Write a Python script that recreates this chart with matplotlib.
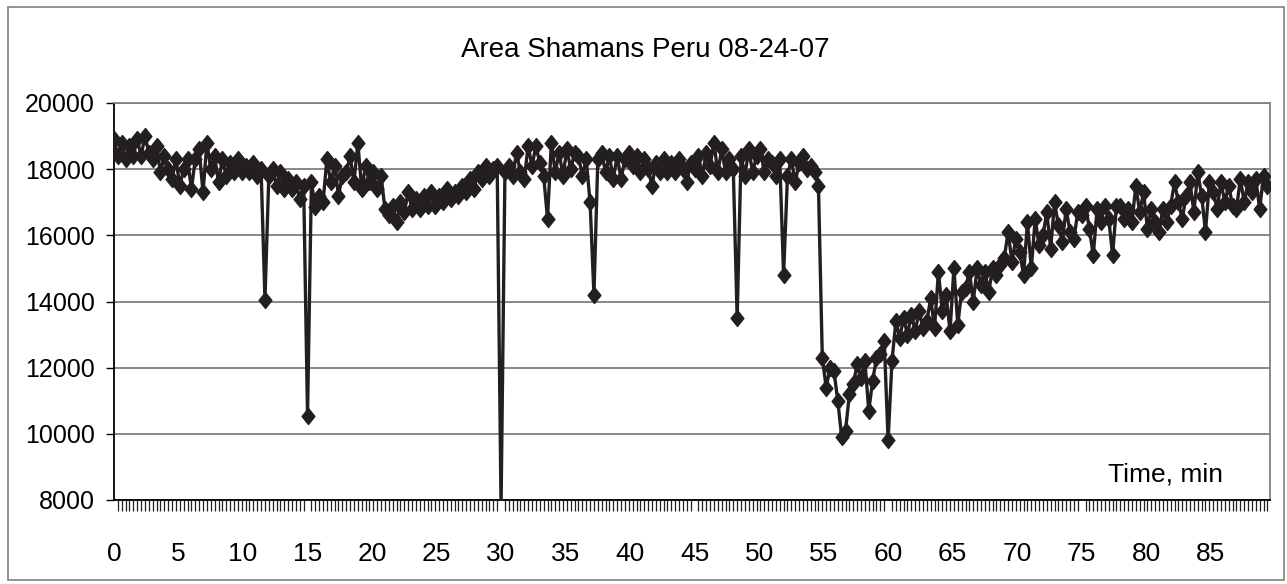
import numpy as np
import matplotlib.pyplot as plt
from matplotlib.ticker import FixedLocator
from matplotlib.patches import Rectangle

plt.rcParams['font.family'] = ['Liberation Sans Narrow', 'Liberation Sans', 'DejaVu Sans']

# Sampling step of the recording, in minutes
step = 0.3

# Area readings, one row per 3 minutes (10 samples each)
area_00 = [18900, 18400, 18800, 18300, 18700, 18400, 18900, 18400, 19000, 18500]
area_03 = [18300, 18700, 17900, 18400, 18000, 17700, 18300, 17500, 18000, 18300]
area_06 = [17400, 18300, 18600, 17300, 18800, 18000, 18400, 17600, 18300, 17800]
area_09 = [18200, 17900, 18300, 17900, 18100, 17900, 18200, 17800, 18000, 14050]
area_12 = [17800, 18000, 17500, 17900, 17400, 17700, 17400, 17600, 17100, 17500]
area_15 = [10550, 17600, 16850, 17200, 17000, 18300, 17600, 18100, 17200, 17800]
area_18 = [17900, 18400, 17600, 18800, 17400, 18100, 17600, 17900, 17400, 17800]
area_21 = [16800, 16600, 16900, 16400, 17000, 16700, 17300, 16800, 17100, 16800]
area_24 = [17200, 16900, 17300, 16900, 17200, 17000, 17400, 17100, 17300, 17200]
area_27 = [17500, 17300, 17700, 17400, 17900, 17700, 18100, 17800, 18000, 18100]
area_30 = [7800, 17900, 18100, 17800, 18500, 17900, 17700, 18700, 18100, 18700]
area_33 = [18200, 17800, 16500, 18800, 17900, 18500, 17800, 18600, 18000, 18500]
area_36 = [18400, 17800, 18300, 17000, 14200, 18300, 18500, 17900, 18400, 17700]
area_39 = [18400, 17700, 18300, 18500, 18100, 18400, 17900, 18300, 18000, 17500]
area_42 = [18200, 17900, 18300, 17900, 18200, 17900, 18300, 18000, 17600, 18200]
area_45 = [18000, 18400, 17800, 18500, 18100, 18800, 17900, 18600, 17900, 18300]
area_48 = [18000, 13500, 18400, 17800, 18600, 17900, 18400, 18600, 17900, 18300]
area_51 = [18200, 17800, 18300, 14800, 17800, 18300, 17600, 18200, 18400, 18000]
area_54 = [18100, 17900, 17500, 12300, 11400, 12000, 11900, 11000, 9900, 10100]
area_57 = [11200, 11500, 12100, 11700, 12200, 10700, 11600, 12300, 12400, 12800]
area_60 = [9800, 12200, 13400, 12900, 13500, 13000, 13600, 13100, 13700, 13200]
area_63 = [13400, 14100, 13200, 14900, 13700, 14200, 13100, 15000, 13300, 14300]
area_66 = [14400, 14900, 14000, 15000, 14500, 14900, 14300, 15000, 14800, 15100]
area_69 = [15300, 16100, 15200, 15900, 15500, 14800, 16400, 15000, 16500, 15700]
area_72 = [16000, 16700, 15600, 17000, 16300, 15800, 16800, 16100, 15900, 16700]
area_75 = [16600, 16900, 16200, 15400, 16800, 16400, 16900, 16500, 15400, 16900]
area_78 = [16900, 16500, 16800, 16400, 17500, 16700, 17300, 16200, 16800, 16400]
area_81 = [16100, 16800, 16400, 16900, 17600, 17000, 16500, 17200, 17600, 16700]
area_84 = [17900, 17200, 16100, 17600, 17300, 16800, 17600, 17000, 17500, 16900]
area_87 = [16800, 17700, 17000, 17600, 17300, 17700, 16800, 17800, 17500]

area = np.array(area_00 + area_03 + area_06 + area_09 + area_12 + area_15 +
                area_18 + area_21 + area_24 + area_27 + area_30 + area_33 +
                area_36 + area_39 + area_42 + area_45 + area_48 + area_51 +
                area_54 + area_57 + area_60 + area_63 + area_66 + area_69 +
                area_72 + area_75 + area_78 + area_81 + area_84 + area_87)
time_min = np.arange(len(area)) * step

x_labels = ['0', '5', '10', '15', '20', '25', '30', '35', '40', '45',
            '50', '55', '60', '65', '70', '75', '80', '85']
y_ticks = [8000, 10000, 12000, 14000, 16000, 18000, 20000]

title = 'Area Shamans Peru 08-24-07'
x_title = 'Time, min'

#################
# Make the plot #
#################

fig = plt.figure(figsize=(12.87, 5.84), dpi=100)
ax = fig.add_axes([114 / 1287, 1 - 500 / 584, (1270 - 114) / 1287, (500 - 103) / 584])

# Outer chart border
fig.patches.append(Rectangle((8 / 1287, 1 - 580 / 584), (1284 - 8) / 1287, (580 - 7) / 584,
                             transform=fig.transFigure, fill=False,
                             edgecolor='#808080', linewidth=1.2))

# Diamond marker, a bit taller than wide
diamond = [(0, 1), (0.8, 0), (0, -1), (-0.8, 0), (0, 1)]

ax.plot(time_min, area, color='#231f20', linewidth=2.4,
        marker=diamond, markersize=11.5, markerfacecolor='#231f20',
        markeredgecolor='#231f20', zorder=3)

ax.set_xlim(0, 89.6)
ax.set_ylim(8000, 20000)

# Horizontal gridlines
ax.set_yticks(y_ticks)
ax.yaxis.grid(True, color='#7f7f7f', linewidth=1.3)
ax.set_axisbelow(True)

# X axis: one tick per sample, labels every 5 minutes
ax.set_xticks([float(v) for v in x_labels])
ax.set_xticklabels(x_labels)
ax.xaxis.set_minor_locator(FixedLocator(time_min))
ax.tick_params(axis='x', which='major', length=0, pad=30, labelsize=19)
ax.tick_params(axis='x', which='minor', length=8, width=0.9, color='#231f20', direction='out')
ax.tick_params(axis='y', which='major', length=6, width=1, pad=8, labelsize=18)

for side in ['top', 'right']:
    ax.spines[side].set_color('#808080')
    ax.spines[side].set_linewidth(1.3)
ax.spines['left'].set_linewidth(1.3)
ax.spines['bottom'].set_linewidth(1.3)

fig.text(0.501, 1 - 50 / 584, title, ha='center', va='center', fontsize=20)
ax.text(0.910, 0.065, x_title, transform=ax.transAxes, ha='center', va='center', fontsize=19)

fig.savefig('out.png', dpi=100)
